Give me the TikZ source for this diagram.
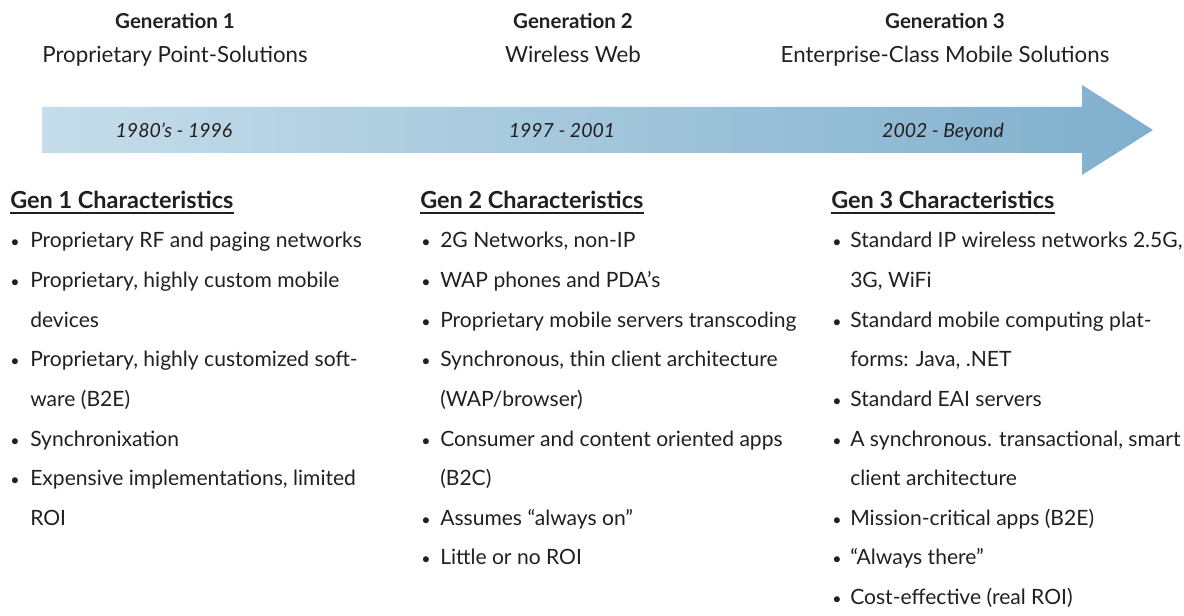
\documentclass[tikz,border=0pt]{standalone}
\usepackage{fontspec}
\setmainfont{Lato}
\usetikzlibrary{positioning, calc}
\definecolor{ink}{RGB}{35,31,32}
\definecolor{arrowlight}{RGB}{197,221,234}
\definecolor{arrowdark}{RGB}{128,175,205}

\begin{document}
\begin{tikzpicture}[
    x=0.75pt, y=-0.75pt,
    every node/.style={text=ink, inner sep=0pt},
    gen/.style={font=\fontsize{15.4}{18}\selectfont\bfseries, anchor=base},
    era/.style={font=\fontsize{16.7}{19}\selectfont, anchor=base},
    date/.style={font=\fontsize{14.6}{17}\selectfont\itshape, anchor=base},
    head/.style={font=\fontsize{17.6}{20}\selectfont\bfseries, anchor=base west},
    item/.style={font=\fontsize{15.8}{18}\selectfont, anchor=base west},
    bul/.style={font=\fontsize{12}{14}\selectfont, anchor=base},
    uline/.style={draw=ink, line width=1.1pt}
]
\useasboundingbox (0,0) rectangle (1184,616);

% timeline arrow
\shade[left color=arrowlight, right color=arrowdark]
    (42,107) -- (1082,107) -- (1082,85) -- (1153,130)
    -- (1082,175) -- (1082,153) -- (42,153) -- cycle;

% generations
\node[gen] (g1) at (175,29) {Generation 1};
\node[era] (e1) at (175,63) {Proprietary Point-Solutions};
\node[gen] (g2) at (573,29) {Generation 2};
\node[era] (e2) at (573,63) {Wireless Web};
\node[gen] (g3) at (945,29) {Generation 3};
\node[era] (e3) at (945,63) {Enterprise-Class Mobile Solutions};

% dates on the arrow
\node[date] (d1) at (174,138) {1980’s - 1996};
\node[date] (d2) at (562,138) {1997 - 2001};
\node[date] (d3) at (943,138) {2002 - Beyond};

% column headings
\node[head] (h1) at (10,209) {Gen 1 Characteristics};
\node[head] (h2) at (420,209) {Gen 2 Characteristics};
\node[head] (h3) at (831,209) {Gen 3 Characteristics};
\foreach \h in {h1,h2,h3}
    \draw[uline] ($(\h.base west)+(0,4)$) -- ($(\h.base east)+(0,4)$);

% Gen 1 list
\foreach \b/\txt [count=\i] in {
    1/{Proprietary RF and paging networks},
    1/{Proprietary, highly custom mobile},
    0/devices,
    1/{Proprietary, highly customized soft-},
    0/{ware (B2E)},
    1/Synchronixation,
    1/{Expensive implementations, limited},
    0/ROI} {
    \node[item] (c1-\i) at (30,{248+39.6*(\i-1)}) {\txt};
    \ifnum\b=1 \node[bul] (c1-\i-dot) at ($(c1-\i.base west)+(-15,0)$) {\textbullet}; \fi
}

% Gen 2 list
\foreach \b/\txt [count=\i] in {
    1/{2G Networks, non-IP},
    1/{WAP phones and PDA’s},
    1/{Proprietary mobile servers transcoding},
    1/{Synchronous, thin client architecture},
    0/{(WAP/browser)},
    1/{Consumer and content oriented apps},
    0/{(B2C)},
    1/{Assumes “always on”},
    1/{Little or no ROI}} {
    \node[item] (c2-\i) at (440,{248+39.6*(\i-1)}) {\txt};
    \ifnum\b=1 \node[bul] (c2-\i-dot) at ($(c2-\i.base west)+(-14,0)$) {\textbullet}; \fi
}

% Gen 3 list
\foreach \b/\txt [count=\i] in {
    1/{Standard IP wireless networks 2.5G,},
    0/{3G, WiFi},
    1/{Standard mobile computing plat-},
    0/{forms: Java, .NET},
    1/{Standard EAI servers},
    1/{A synchronous. transactional, smart},
    0/{client architecture},
    1/{Mission-critical apps (B2E)},
    1/{“Always there”},
    1/{Cost-effective (real ROI)}} {
    \node[item] (c3-\i) at (850,{248+39.6*(\i-1)}) {\txt};
    \ifnum\b=1 \node[bul] (c3-\i-dot) at ($(c3-\i.base west)+(-13,0)$) {\textbullet}; \fi
}

\end{tikzpicture}
\end{document}
